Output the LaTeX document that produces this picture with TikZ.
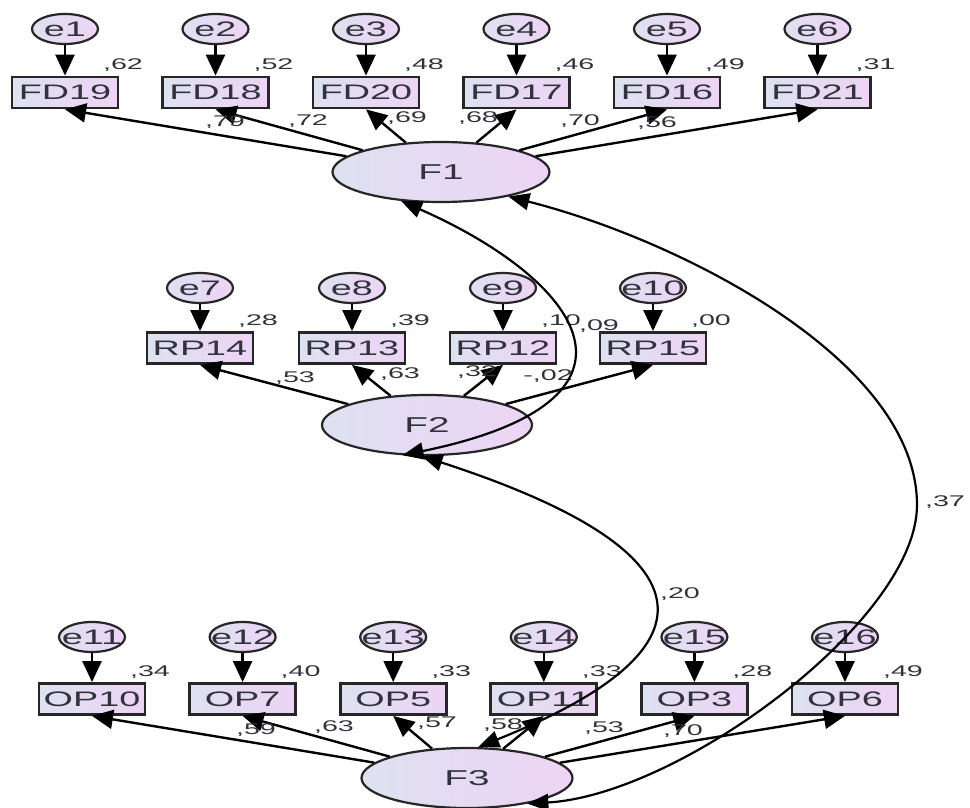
\documentclass[tikz,border=0pt]{standalone}
\usepackage{graphicx}
\usepackage{fontspec}
\setmainfont{Liberation Sans}
\usetikzlibrary{arrows.meta,shapes.geometric}
\definecolor{fillL}{RGB}{222,225,240}
\definecolor{fillR}{RGB}{237,212,245}
\definecolor{txt}{RGB}{50,50,60}
\newcommand\wide[1]{\scalebox{1.8}[1]{#1}}
\newcommand\wlab[1]{\scalebox{1.85}[1]{#1}}
\begin{document}
\begin{tikzpicture}[x=1pt,y=-1pt,
  obs/.style={rectangle, draw=black!85, line width=2.8pt, left color=fillL, right color=fillR,
    minimum width=106pt, minimum height=31pt, inner sep=0pt, text=txt, font=\fontsize{21}{21}\selectfont},
  err/.style={ellipse, draw=black!85, line width=2.2pt, left color=fillL, right color=fillR,
    minimum width=66pt, minimum height=30pt, inner sep=0pt},
  etext/.style={text=txt, font=\fontsize{21}{21}\selectfont, inner sep=0pt},
  lat/.style={ellipse, draw=black!85, line width=2.2pt, left color=fillL, right color=fillR,
    minimum width=212pt, minimum height=60pt, inner sep=0pt, text=txt, font=\fontsize{21.5}{21.5}\selectfont},
  lab/.style={text=txt, font=\fontsize{15.5}{15.5}\selectfont, inner sep=0pt},
  arr/.style={-{Triangle[length=21pt,width=19pt]}, line width=2.4pt},
  cov/.style={{Triangle[length=21pt,width=17pt]}-{Triangle[length=21pt,width=17pt]}, line width=2.2pt},
]
\fill[white] (0,0) rectangle (970,808);
\useasboundingbox (0,0) rectangle (970,808);

% latent variables
\node[lat, minimum width=217pt] (F1) at (441,172) {\wide{F1}};
\node[lat, minimum width=210pt] (F2) at (427,425) {\wide{F2}};
\node[lat, minimum width=211pt] (F3) at (467,778) {\wide{F3}};

% top row
\foreach \x/\n/\e/\r in {65/FD19/1/62, 215.5/FD18/2/52, 366/FD20/3/48, 516.5/FD17/4/46, 667/FD16/5/49, 817.5/FD21/6/31}{
  \node[obs] (\n) at (\x,92.5) {\wide{\n}};
  \node[err, label={[etext]center:\wide{e\e}}] (e\e) at (\x,29) {};
  \node[lab] (r\n) at ({\x+58},65.5) {\wlab{,\r}};
  \draw[arr] (e\e) -- (\n);
  \draw[arr] (F1) -- (\n.south);
}
% middle row
\foreach \x/\n/\e/\r in {200/RP14/7/28, 352/RP13/8/39, 503/RP12/9/10, 653/RP15/10/00}{
  \node[obs] (\n) at (\x,348) {\wide{\n}};
  \node[err, label={[etext]center:\wide{e\e}}] (e\e) at (\x,288) {};
  \node[lab] (r\n) at ({\x+58},321) {\wlab{,\r}};
  \draw[arr] (e\e) -- (\n);
  \draw[arr] (F2) -- (\n.south);
}
% bottom row
\foreach \x/\n/\e/\r in {92/OP10/11/34, 242.6/OP7/12/40, 393.2/OP5/13/33, 543.8/OP11/14/33, 694.4/OP3/15/28, 845/OP6/16/49}{
  \node[obs] (\n) at (\x,699) {\wide{\n}};
  \node[err, label={[etext]center:\wide{e\e}}] (e\e) at (\x,637) {};
  \node[lab] (r\n) at ({\x+58},672) {\wlab{,\r}};
  \draw[arr] (e\e) -- (\n);
  \draw[arr] (F3) -- (\n.south);
}

% loading labels
\node[lab] (l1) at (225,122) {\wlab{,79}};
\node[lab] (l2) at (308,121) {\wlab{,72}};
\node[lab] (l3) at (407,118) {\wlab{,69}};
\node[lab] (l4) at (478,118) {\wlab{,68}};
\node[lab] (l5) at (580,121) {\wlab{,70}};
\node[lab] (l6) at (657,123) {\wlab{,56}};
\node[lab] (l7) at (295,378) {\wlab{,53}};
\node[lab] (l8) at (400,374) {\wlab{,63}};
\node[lab] (l9) at (477,372) {\wlab{,32}};
\node[lab] (l10) at (548,376) {\wlab{-,02}};
\node[lab] (l11) at (256,730) {\wlab{,59}};
\node[lab] (l12) at (334,727) {\wlab{,63}};
\node[lab] (l13) at (437,723) {\wlab{,57}};
\node[lab] (l14) at (503,725) {\wlab{,58}};
\node[lab] (l15) at (604,728) {\wlab{,53}};
\node[lab] (l16) at (683,731) {\wlab{,70}};

% covariances
\coordinate (k37) at (917,505);
\draw[cov] (F1.-144) .. controls (580,280) and (670,400) .. (F2.-129);
\draw[cov] (F2.-100) .. controls (690,543) and (745,640) .. (F3.70);
\draw[cov] (F1.-20) .. controls (680,240) and (917,360) .. (k37) .. controls (917,620) and (680,795) .. (F3.-23);
\node[lab] (c12) at (599,326) {\wlab{,09}};
\node[lab] (c23) at (680,594) {\wlab{,20}};
\node[lab] (c13) at (945,502) {\wlab{,37}};
\end{tikzpicture}
\end{document}
